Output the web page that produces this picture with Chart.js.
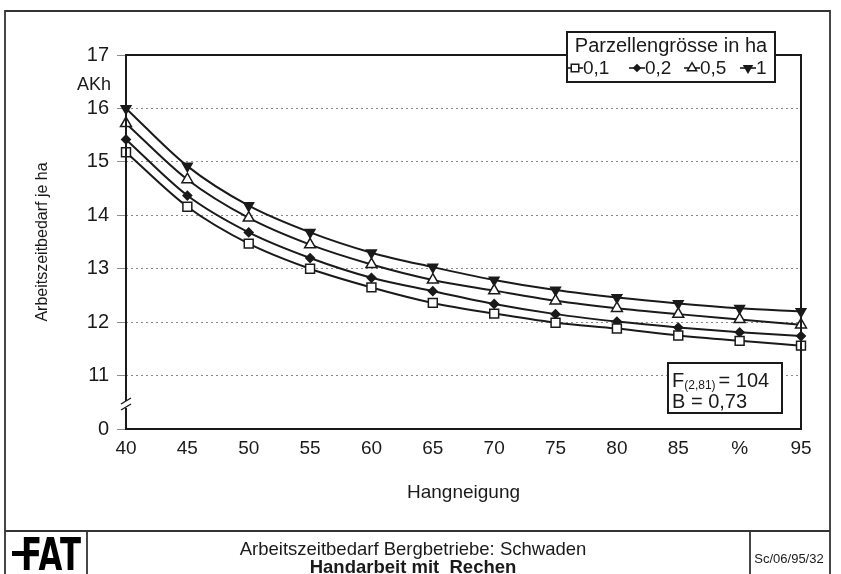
<!DOCTYPE html>
<html>
<head>
<meta charset="utf-8">
<script src="https://cdn.jsdelivr.net/npm/chart.js@4"></script>
<style>
  html, body { margin: 0; padding: 0; background: #fff; }
</style>
</head>
<body>
<canvas id="myChart" width="841" height="574"></canvas>
<script>
// Hangneigung in %, Arbeitszeitbedarf in AKh je ha
const slopes = ['40', '45', '50', '55', '60', '65', '70', '75', '80', '85', '90', '95'];
const xTickLabels = ['40', '45', '50', '55', '60', '65', '70', '75', '80', '85', '%', '95'];
const plotSizes = ['0,1', '0,2', '0,5', '1'];
const ha01 = [15.18, 14.16, 13.47, 13.0, 12.65, 12.36, 12.16, 11.99, 11.88, 11.75, 11.65, 11.56];
const ha02 = [15.42, 14.37, 13.68, 13.2, 12.83, 12.58, 12.34, 12.15, 12.01, 11.9, 11.81, 11.74];
const ha05 = [15.72, 14.67, 13.95, 13.45, 13.08, 12.79, 12.59, 12.4, 12.26, 12.15, 12.05, 11.95];
const ha1 = [16.0, 14.92, 14.18, 13.68, 13.3, 13.03, 12.79, 12.6, 12.46, 12.35, 12.26, 12.2];
// axis is broken below 11, the lowest tick reads 0
const yTickLabels = { 10: '0', 11: '11', 12: '12', 13: '13', 14: '14', 15: '15', 16: '16', 17: '17' };

const FONT = '"Liberation Sans", Arial, sans-serif';
const INK = '#1a1a1a';

function series(label, values, style, fill, radius, rotation) {
    return {
        label: label,
        data: values,
        borderColor: INK,
        borderWidth: 2,
        cubicInterpolationMode: 'monotone',
        pointStyle: style,
        pointRotation: rotation || 0,
        pointRadius: radius,
        pointBackgroundColor: fill,
        pointBorderColor: INK,
        pointBorderWidth: 1.5,
        fill: false
    };
}

const data = {
    labels: slopes,
    datasets: [
        series(plotSizes[0], ha01, 'rect', '#fff', 6.3),
        series(plotSizes[1], ha02, 'rectRot', INK, 4.3),
        series(plotSizes[2], ha05, 'triangle', '#fff', 6.3),
        series(plotSizes[3], ha1, 'triangle', INK, 5.6, 180)
    ]
};

// frame, broken axis, legend, statistics box and footer
const decorations = {
    id: 'decorations',
    afterDraw(chart) {
        const ctx = chart.ctx;
        const a = chart.chartArea;
        ctx.save();

        // plot frame
        ctx.strokeStyle = INK;
        ctx.lineWidth = 2;
        ctx.strokeRect(a.left, a.top, a.right - a.left, a.bottom - a.top);

        // axis break
        const yb = 405;
        ctx.fillStyle = '#fff';
        ctx.fillRect(a.left - 3, yb - 4, 6, 7);
        ctx.lineWidth = 1.4;
        ctx.beginPath();
        ctx.moveTo(a.left - 5, yb - 1); ctx.lineTo(a.left + 5, yb - 7);
        ctx.moveTo(a.left - 5, yb + 5); ctx.lineTo(a.left + 5, yb - 1);
        ctx.stroke();

        ctx.fillStyle = INK;
        ctx.font = '18px ' + FONT;
        ctx.textAlign = 'right';
        ctx.textBaseline = 'middle';
        ctx.fillText('AKh', 111, 85);

        // legend
        const lx = 567, ly = 32, lw = 208, lh = 50;
        ctx.fillStyle = '#fff';
        ctx.fillRect(lx, ly, lw, lh);
        ctx.lineWidth = 2;
        ctx.strokeRect(lx, ly, lw, lh);
        ctx.fillStyle = INK;
        ctx.textAlign = 'center';
        ctx.font = '20px ' + FONT;
        ctx.fillText('Parzellengrösse in ha', lx + lw / 2, 46);
        const itemX = [575, 637, 692, 748];
        chart.data.datasets.forEach(function(ds, i) {
            const cx = itemX[i], cy = 68;
            ctx.strokeStyle = INK;
            ctx.lineWidth = 1.6;
            ctx.beginPath();
            ctx.moveTo(cx - 8, cy); ctx.lineTo(cx + 8, cy);
            ctx.stroke();
            ctx.fillStyle = ds.pointBackgroundColor;
            ctx.lineWidth = ds.pointBorderWidth;
            Chart.helpers.drawPoint(ctx, {
                pointStyle: ds.pointStyle,
                rotation: ds.pointRotation,
                radius: ds.pointRadius - 1,
                borderWidth: ds.pointBorderWidth
            }, cx, cy);
            ctx.fillStyle = INK;
            ctx.textAlign = 'left';
            ctx.font = '19px ' + FONT;
            ctx.fillText(ds.label, cx + 8, cy + 1);
        });

        // statistics box
        ctx.fillStyle = '#fff';
        ctx.fillRect(668, 363, 114, 50);
        ctx.strokeStyle = INK;
        ctx.lineWidth = 2;
        ctx.strokeRect(668, 363, 114, 50);
        ctx.fillStyle = INK;
        ctx.textAlign = 'left';
        ctx.textBaseline = 'alphabetic';
        ctx.font = '20px ' + FONT;
        ctx.fillText('F', 672, 387);
        let fx = 672 + ctx.measureText('F').width;
        ctx.font = '12px ' + FONT;
        ctx.fillText('(2,81)', fx, 389);
        fx += ctx.measureText('(2,81)').width + 3;
        ctx.font = '20px ' + FONT;
        ctx.fillText('= 104', fx, 387);
        ctx.fillText('B = 0,73', 672, 408);

        // page frame and footer
        ctx.lineWidth = 1.8;
        ctx.strokeStyle = '#333';
        ctx.beginPath();
        ctx.moveTo(5, 576); ctx.lineTo(5, 11); ctx.lineTo(830, 11); ctx.lineTo(830, 576);
        ctx.moveTo(5, 531); ctx.lineTo(830, 531);
        ctx.moveTo(87, 531); ctx.lineTo(87, 576);
        ctx.moveTo(750, 531); ctx.lineTo(750, 576);
        ctx.stroke();

        // FAT logo
        ctx.fillStyle = '#000';
        ctx.fillRect(12, 551, 12, 5);
        ctx.save();
        ctx.translate(21, 570);
        ctx.scale(0.7, 1);
        ctx.font = 'bold 44px "DejaVu Sans", sans-serif';
        ctx.textAlign = 'left';
        ctx.textBaseline = 'alphabetic';
        ctx.fillText('FAT', 0, 0);
        ctx.restore();

        ctx.fillStyle = INK;
        ctx.textAlign = 'center';
        ctx.textBaseline = 'alphabetic';
        ctx.font = '18.5px ' + FONT;
        ctx.fillText('Arbeitszeitbedarf Bergbetriebe: Schwaden', 413, 555);
        ctx.font = 'bold 18.5px ' + FONT;
        ctx.fillText('Handarbeit mit  Rechen', 413, 573);
        ctx.font = '13px ' + FONT;
        ctx.fillText('Sc/06/95/32', 789, 563);

        ctx.restore();
    }
};

const config = {
    type: 'line',
    data: data,
    options: {
        responsive: false,
        animation: false,
        devicePixelRatio: 1,
        layout: { padding: { left: 0, top: 55, right: 40, bottom: 43 } },
        plugins: {
            legend: { display: false },
            tooltip: { enabled: false }
        },
        scales: {
            x: {
                grid: { display: false, drawTicks: false },
                border: { display: false },
                ticks: {
                    color: INK,
                    font: { family: FONT, size: 19 },
                    padding: 8,
                    maxRotation: 0,
                    autoSkip: false,
                    callback: function(value, index) { return xTickLabels[index]; }
                },
                title: {
                    display: true,
                    text: 'Hangneigung',
                    color: INK,
                    font: { family: FONT, size: 19 },
                    padding: { top: 0, bottom: 27 }
                },
                afterFit: function(scale) { scale.height = 102; }
            },
            y: {
                min: 10,
                max: 17,
                ticks: {
                    stepSize: 1,
                    color: INK,
                    padding: 8,
                    font: { family: FONT, size: 20 },
                    callback: function(value) { return yTickLabels[value]; }
                },
                grid: {
                    color: '#8a8a8a',
                    lineWidth: 1,
                    tickLength: 9,
                    tickColor: '#8a8a8a'
                },
                border: { display: false, dash: [2, 3] },
                title: {
                    display: true,
                    text: 'Arbeitszeitbedarf je ha',
                    color: INK,
                    font: { family: FONT, size: 16 },
                    padding: { top: 33, bottom: 0 }
                },
                afterFit: function(scale) { scale.width = 126; }
            }
        }
    },
    plugins: [decorations]
};

const myChart = new Chart(document.getElementById('myChart'), config);
</script>
</body>
</html>
